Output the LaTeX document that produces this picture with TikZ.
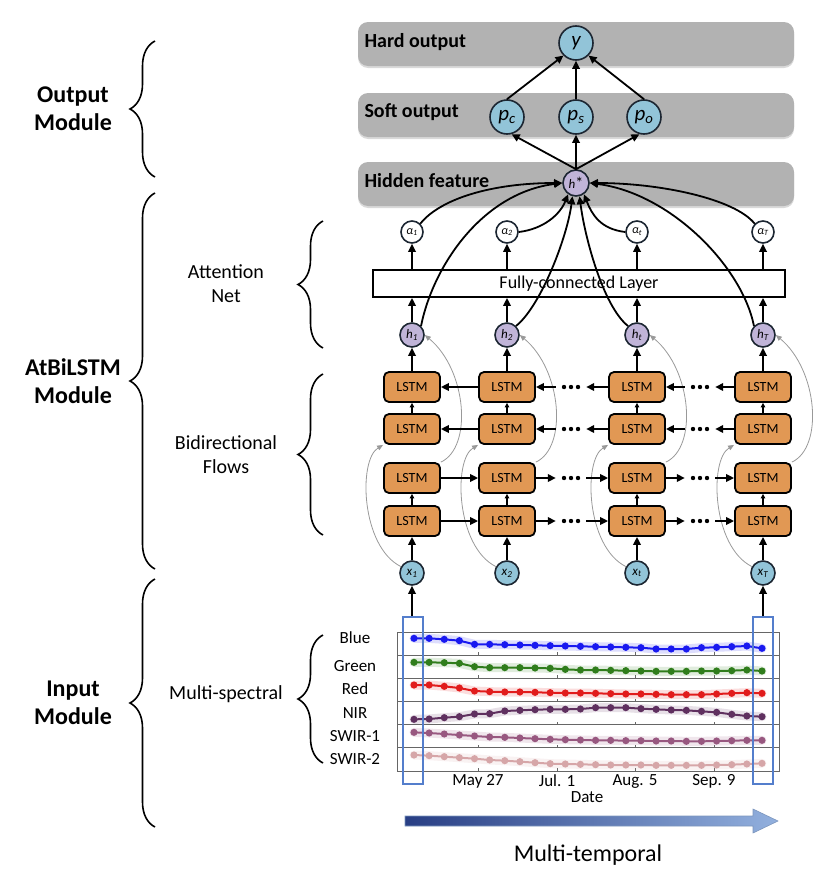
\documentclass[tikz,border=0pt]{standalone}
\usepackage{fontspec}
\setmainfont{Carlito}
\usetikzlibrary{arrows.meta,decorations.pathreplacing,shadows}

\definecolor{bandgray}{RGB}{178,178,178}
\definecolor{lstmfill}{RGB}{225,152,84}
\definecolor{obsfill}{RGB}{146,196,216}
\definecolor{hidfill}{RGB}{192,180,216}
\definecolor{nodeedge}{RGB}{28,38,50}
\definecolor{selblue}{RGB}{84,126,204}
\definecolor{sblue}{RGB}{25,25,240}
\definecolor{sgreen}{RGB}{48,125,28}
\definecolor{sred}{RGB}{225,28,28}
\definecolor{snir}{RGB}{95,48,95}
\definecolor{sswa}{RGB}{152,88,128}
\definecolor{sswb}{RGB}{214,166,168}
\definecolor{tdark}{RGB}{40,62,132}
\definecolor{tlight}{RGB}{146,176,222}

\newcommand\fsz[2]{\fontsize{#1}{#2}\selectfont}
\newcommand\spectrum[3]{%
  \draw[#1,line width=9pt,opacity=.15,line join=round,line cap=round] (414,{610+#2/3}) \foreach \v [count=\i] in {#3}{ -- ({414+15.13*\i},{610+\v/3})};
  \draw[#1,line width=2pt,line join=round] (414,{610+#2/3}) \foreach \v [count=\i] in {#3}{ -- ({414+15.13*\i},{610+\v/3})};
  \foreach \v [count=\i from 0] in {#2,#3} \fill[#1] ({414+15.13*\i},{610+\v/3}) circle (3.6);
}

\begin{document}
\begin{tikzpicture}[x=1pt,y=-1pt,
  band/.style={fill=bandgray,rounded corners=10pt,minimum width=436pt,minimum height=44pt,drop shadow={opacity=.3,shadow xshift=0pt,shadow yshift=-2pt}},
  bandtxt/.style={anchor=west,font=\fsz{20}{24}\bfseries},
  cnode/.style={circle,draw=nodeedge,line width=1.6pt,inner sep=0pt,font=\fsz{13}{13}\itshape},
  outc/.style={cnode,fill=obsfill,minimum size=34pt,font=\fsz{21}{21}\itshape},
  obs/.style={cnode,fill=obsfill,minimum size=24pt},
  hid/.style={cnode,fill=hidfill,minimum size=24pt},
  att/.style={cnode,fill=white,minimum size=22pt,font=\fsz{12}{12}\itshape},
  lstm/.style={draw,line width=1.8pt,fill=lstmfill,rounded corners=5pt,minimum width=56pt,minimum height=30pt,inner sep=0pt,font=\fsz{14}{14}},
  ellip/.style={minimum width=30pt,minimum height=6pt,inner sep=0pt,path picture={\foreach \k in {-7,0,7} \fill ([xshift=\k pt]path picture bounding box.center) circle (2.2pt);}},
  arr/.style={line width=1.8pt,-{Triangle[length=8pt,width=7.5pt]}},
  sarr/.style={line width=1.2pt,-{Triangle[length=4.5pt,width=4.5pt]}},
  garr/.style={gray!80,line width=.8pt,-{Triangle[length=6pt,width=5pt]}},
  brc/.style={decorate,decoration={brace,amplitude=25pt},line width=1.6pt},
  chartln/.style={draw=black!60,line width=.8pt},
  sel/.style={draw=selblue,line width=2pt,minimum width=20pt,minimum height=167pt,inner sep=0pt},
  lbl/.style={font=\fsz{17}{17}},
  ticklbl/.style={font=\fsz{17}{17}}]
\useasboundingbox (0,0) rectangle (828,878);

\node[band] (hardband) at (576,44) {};
\node[band] (softband) at (576,115) {};
\node[band] (hidband) at (576,184) {};
\node[bandtxt] (hardtxt) at (361,42) {Hard output};
\node[bandtxt] (softtxt) at (361,112) {Soft output};
\node[bandtxt] (hidtxt) at (361,181) {Hidden feature};

\node[outc] (y) at (576,43) {y};
\node[outc] (pc) at (507,117) {p\textsubscript{c}};
\node[outc] (ps) at (576,117) {p\textsubscript{s}};
\node[outc] (po) at (644,117) {p\textsubscript{o}};
\node[hid,minimum size=26pt] (hs) at (576,183) {h{\upshape\fsz{16}{16}*}};
\draw[arr] (pc.north) -- (y.south west);
\draw[arr] (ps) -- (y);
\draw[arr] (po.north) -- (y.south east);
\draw[arr] (hs.north) -- (pc.-75);
\draw[arr] (hs) -- (ps);
\draw[arr] (hs.north) -- (po.-105);

\node[draw,line width=1.8pt,fill=white,minimum width=412pt,minimum height=27pt,inner sep=0pt,font=\fsz{18}{18}] (fc) at (579,283.5) {Fully-connected Layer};

\foreach \c/\x in {1/412,2/507,t/637,T/763}{
  \foreach \rw/\y in {1/387,2/429,3/478,4/521} \node[lstm] (l\rw\c) at (\x,\y) {LSTM};
  \node[hid] (h\c) at (\x,335) {h\textsubscript{\c}};
  \node[att] (a\c) at (\x,232) {α\textsubscript{\c}};
  \node[obs] (x\c) at (\x,573) {x\textsubscript{\c}};
}
\foreach \c in {1,2,t,T}{
  \draw[arr] (x\c) -- (l4\c);
  \draw[sarr] (l4\c) -- (l3\c);
  \draw[sarr] (l2\c) -- (l1\c);
  \draw[arr] (l1\c) -- (h\c);
  \draw[arr] (h\c) -- (h\c |- fc.south);
  \draw[arr] (a\c |- fc.north) -- (a\c);
  \draw[garr] (x\c.150) .. controls +(-40,-20) and +(-25,15) .. (l2\c.south west);
  \draw[garr] (l3\c.north east) .. controls +(32,-15) and +(42,35) .. (h\c.east);
}
\foreach \rw/\y in {1/387,2/429,3/478,4/521}{
  \node[ellip] (ea\rw) at (571,\y) {};
  \node[ellip] (eb\rw) at (700,\y) {};
}
\foreach \rw in {1,2}{
  \draw[arr] (l\rw2) -- (l\rw1);
  \draw[arr] (ea\rw) -- (l\rw2);
  \draw[arr] (l\rw t) -- (ea\rw);
  \draw[arr] (eb\rw) -- (l\rw t);
  \draw[arr] (l\rw T) -- (eb\rw);
}
\foreach \rw in {3,4}{
  \draw[arr] (l\rw1) -- (l\rw2);
  \draw[arr] (l\rw2) -- (ea\rw);
  \draw[arr] (ea\rw) -- (l\rw t);
  \draw[arr] (l\rw t) -- (eb\rw);
  \draw[arr] (eb\rw) -- (l\rw T);
}

\draw[arr] (a1.north east) .. controls +(20,-25) and +(-70,0) .. (hs.west);
\draw[arr] (h1.north east) .. controls +(12,-60) and +(-80,10) .. (hs.west);
\draw[arr] (a2.east) .. controls +(25,-3) and +(-8,20) .. (hs.235);
\draw[arr] (h2.north east) .. controls +(25,-20) and +(-5,40) .. (hs.255);
\draw[arr] (ht.north west) .. controls +(-25,-20) and +(5,40) .. (hs.285);
\draw[arr] (at.west) .. controls +(-25,-3) and +(8,20) .. (hs.305);
\draw[arr] (aT.north west) .. controls +(-20,-25) and +(70,0) .. (hs.east);
\draw[arr] (hT.north west) .. controls +(-12,-60) and +(80,10) .. (hs.east);

\draw[chartln] (397,632) rectangle (779,771);
\foreach \y in {655.2,678.3,701.5,724.7,747.8} \draw[chartln] (397,\y) -- (779,\y);
\foreach \x in {478,557,635,714} \foreach \y in {655.2,678.3,701.5,724.7,747.8,771} \draw[chartln] (\x,\y) -- (\x,\y-3);
\spectrum{sblue}{85}{85,88,92,103,103,104,105,106,107,108,109,110,111,112,113,117,117,117,113,112,110,108,115}
\spectrum{sgreen}{157}{157,158,160,170,173,173,173,174,175,178,180,180,181,182,183,184,184,184,183,183,182,180,183}
\spectrum{sred}{225}{225,229,234,243,245,246,246,247,248,249,249,250,251,252,252,253,254,254,254,252,250,248,250}
\spectrum{snir}{328}{327,323,320,312,311,303,301,299,298,298,297,293,293,293,296,298,300,301,304,307,313,318,320}
\spectrum{sswa}{367}{369,372,375,378,381,382,384,386,388,389,390,391,391,392,392,393,393,394,394,393,392,391,391}
\spectrum{sswb}{435}{437,440,443,446,450,452,455,458,461,462,463,464,465,465,465,466,466,466,466,465,464,462,460}
\node[lbl] (lblue) at (355,638) {Blue};
\node[lbl] (lgreen) at (355,666) {Green};
\node[lbl] (lred) at (355,689) {Red};
\node[lbl] (lnir) at (355,713) {NIR};
\node[lbl] (lswa) at (355,736) {SWIR-1};
\node[lbl] (lswb) at (355,759) {SWIR-2};
\node[ticklbl] (tmay) at (478,781) {May 27};
\node[ticklbl] (tjul) at (557,781) {Jul. 1};
\node[ticklbl] (taug) at (635,781) {Aug. 5};
\node[ticklbl] (tsep) at (714,781) {Sep. 9};
\node[ticklbl] (tdate) at (587,797) {Date};
\node[sel] (sel1) at (413,700.5) {};
\node[sel] (selT) at (763,700.5) {};
\draw[arr] (x1 |- sel1.north) -- (x1);
\draw[arr] (selT.north) -- (xT);

\shade[left color=tdark,right color=tlight,draw=tlight!85!black,line width=.6pt] (405,816) -- (753,816) -- (753,809) -- (778,821) -- (753,833) -- (753,826) -- (405,826) -- cycle;
\node[font=\fsz{24}{24}] (temporal) at (588,855) {Multi-temporal};

\draw[brc] (155,177) -- (155,41);
\draw[brc] (155,569) -- (155,193);
\draw[brc] (155,827) -- (155,579);
\draw[brc] (323,348) -- (323,221);
\draw[brc] (323,535) -- (323,374);
\draw[brc] (323,763) -- (323,635);
\node[align=center,font=\fsz{24}{28}\bfseries] (outmod) at (73,109) {Output\\Module};
\node[align=center,font=\fsz{24}{28}\bfseries] (lstmmod) at (73,381) {AtBiLSTM\\Module};
\node[align=center,font=\fsz{24}{28}\bfseries] (inmod) at (73,703) {Input\\Module};
\node[align=center,font=\fsz{20}{24}] (attnet) at (226,284) {Attention\\Net};
\node[align=center,font=\fsz{20}{24}] (biflow) at (226,455) {Bidirectional\\Flows};
\node[font=\fsz{20}{24}] (mspec) at (226,694) {Multi-spectral};
\end{tikzpicture}
\end{document}
